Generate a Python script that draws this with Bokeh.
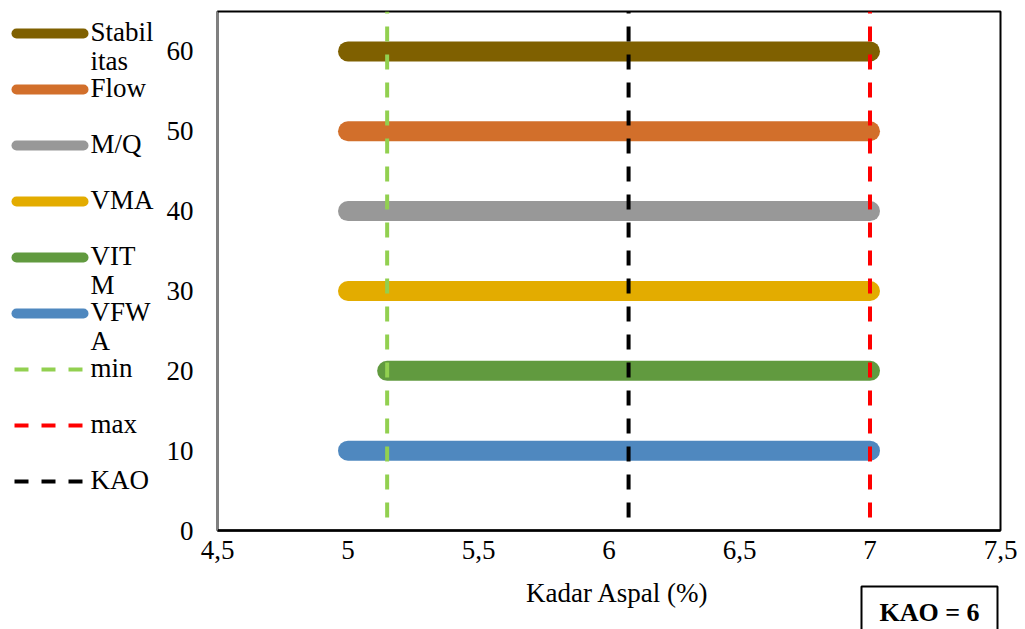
from bokeh.plotting import figure
from bokeh.layouts import row, column
from bokeh.models import Range1d, FixedTicker
from bokeh.core.properties import value
from bokeh.embed import file_html
from bokeh.resources import INLINE

# ---- data ----
series = ["Stabilitas", "Flow", "M/Q", "VMA", "VITM", "VFWA"]
series_y = [60, 50, 40, 30, 20, 10]
series_start = [5.0, 5.0, 5.0, 5.0, 5.15, 5.0]
series_end = [7.0, 7.0, 7.0, 7.0, 7.0, 7.0]
series_colors = ["#7F6000", "#D26F2B", "#989898", "#E3AC00", "#619A3F", "#4F88BF"]

ref_names = ["min", "max", "KAO"]
ref_x = [5.15, 7.0, 6.075]
ref_colors = ["#92D050", "#FF0000", "#000000"]
ref_y = [0, 65]

legend_lines = {
    "Stabilitas": ["Stabil", "itas"],
    "Flow": ["Flow"],
    "M/Q": ["M/Q"],
    "VMA": ["VMA"],
    "VITM": ["VIT", "M"],
    "VFWA": ["VFW", "A"],
    "min": ["min"],
    "max": ["max"],
    "KAO": ["KAO"],
}

x_ticks = [4.5, 5, 5.5, 6, 6.5, 7, 7.5]
x_tick_labels = ["4,5", "5", "5,5", "6", "6,5", "7", "7,5"]
y_ticks = [0, 10, 20, 30, 40, 50, 60]
x_title = "Kadar Aspal (%)"
kao_text = "KAO = 6"

FONT = "Liberation Serif"
FS = "27px"

H1 = 575   # height of upper row
TOP = 11
BOT = 45
W_LEG = 158
W_MAIN = 859

# ---- main figure ----
p = figure(width=W_MAIN, height=H1, x_range=Range1d(4.5, 7.5), y_range=Range1d(0, 65),
           output_backend="svg", toolbar_location=None,
           min_border_left=59, min_border_right=17, min_border_top=TOP, min_border_bottom=BOT)
p.xgrid.visible = False
p.ygrid.visible = False
p.background_fill_color = "white"
p.border_fill_color = "white"
p.outline_line_color = "black"
p.outline_line_width = 2

for s, y, x0, x1, c in zip(series, series_y, series_start, series_end, series_colors):
    p.line([x0, x1], [y, y], line_width=20, line_color=c, line_cap="round")

for n, x, c in zip(ref_names, ref_x, ref_colors):
    p.line([x, x], ref_y, line_width=4, line_color=c, line_dash="15 13", line_dash_offset=15)

p.xaxis.ticker = FixedTicker(ticks=x_ticks)
p.xaxis.major_label_overrides = {t: l for t, l in zip(x_ticks, x_tick_labels)}
p.yaxis.ticker = FixedTicker(ticks=y_ticks)
for ax in (p.xaxis[0], p.yaxis[0]):
    ax.major_tick_line_color = None
    ax.minor_tick_line_color = None
    ax.major_tick_out = 0
    ax.major_tick_in = 0
    ax.minor_tick_out = 0
    ax.minor_tick_in = 0
    ax.major_label_text_font = FONT
    ax.major_label_text_font_size = FS
    ax.major_label_text_color = "black"
p.xaxis.axis_line_color = "black"
p.xaxis.axis_line_width = 2.5
p.yaxis.axis_line_color = "#808080"
p.yaxis.axis_line_width = 1
p.xaxis.major_label_standoff = 10
p.yaxis.major_label_standoff = 24

# ---- legend figure (pixel coordinates; frame aligned with main frame) ----
names = series + ref_names
colors = series_colors + ref_colors
lg = figure(width=W_LEG, height=H1, x_range=Range1d(0, W_LEG), y_range=Range1d(H1 - BOT, TOP),
            output_backend="svg", toolbar_location=None,
            min_border=0, min_border_left=0, min_border_right=0,
            min_border_top=TOP, min_border_bottom=BOT)
lg.axis.visible = False
lg.xgrid.visible = False
lg.ygrid.visible = False
lg.outline_line_color = None

for i, (n, c) in enumerate(zip(names, colors)):
    yc = 33 + 56 * i
    if i < len(series):
        lg.line([16, 83], [yc, yc], line_width=10, line_color=c, line_cap="round")
    else:
        lg.line([14, 85], [yc, yc], line_width=4, line_color=c, line_dash="14 13")
    for k, t in enumerate(legend_lines[n]):
        lg.text([90], [yc - 2 + 29 * k], text=[t], text_font=value(FONT), text_font_size=FS,
                text_baseline="middle", text_align="left", text_color="black")

# ---- bottom strip: axis title and KAO box ----
W_ALL = W_LEG + W_MAIN
H2 = 54
bt = figure(width=W_ALL, height=H2, x_range=Range1d(0, W_ALL), y_range=Range1d(H1 + H2, H1),
            output_backend="svg", toolbar_location=None,
            min_border=0, min_border_left=0, min_border_right=0, min_border_top=0, min_border_bottom=0)
bt.axis.visible = False
bt.xgrid.visible = False
bt.ygrid.visible = False
bt.outline_line_color = None
bt.text([617], [592], text=[x_title], text_font=value(FONT), text_font_size=FS,
        text_baseline="middle", text_align="center", text_color="black")
bt.quad(left=[861], right=[997], top=[586], bottom=[645], fill_color="white",
        line_color="black", line_width=2)
bt.text([929], [612], text=[kao_text], text_font=value(FONT), text_font_size="26px",
        text_font_style="bold", text_baseline="middle", text_align="center", text_color="black")

layout = column(row(lg, p), bt)
open("out.html", "w").write(file_html(layout, INLINE))
